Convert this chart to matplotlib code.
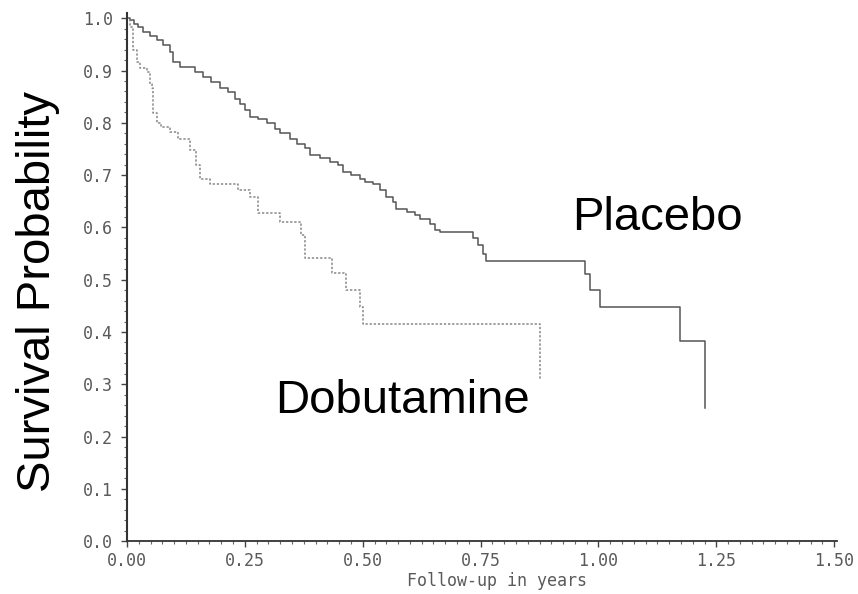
import matplotlib
matplotlib.use("Agg")
import matplotlib.pyplot as plt
from matplotlib.ticker import MultipleLocator, FormatStrFormatter

MONO = "DejaVu Sans Mono"
SANS = "Liberation Sans"

# Kaplan-Meier steps: time (years), survival after the drop
placebo_time = [0.0, 0.006, 0.014, 0.024, 0.035, 0.049, 0.063, 0.077, 0.091, 0.098,
                0.112, 0.144, 0.162, 0.179, 0.197, 0.215, 0.229, 0.239, 0.250, 0.261,
                0.278, 0.296, 0.314, 0.324, 0.345, 0.360, 0.377, 0.388, 0.409, 0.430,
                0.448, 0.458, 0.476, 0.494, 0.504, 0.522, 0.536, 0.550, 0.564, 0.571,
                0.593, 0.610, 0.621, 0.642, 0.653, 0.663, 0.734, 0.745, 0.755, 0.762,
                0.972, 0.983, 1.004, 1.173, 1.225]
placebo_surv = [1.0, 0.996, 0.990, 0.983, 0.974, 0.967, 0.958, 0.948, 0.936, 0.917,
                0.907, 0.897, 0.888, 0.878, 0.866, 0.859, 0.846, 0.837, 0.824, 0.811,
                0.808, 0.799, 0.789, 0.780, 0.770, 0.760, 0.752, 0.738, 0.732, 0.725,
                0.720, 0.706, 0.700, 0.693, 0.687, 0.684, 0.671, 0.658, 0.649, 0.636,
                0.630, 0.623, 0.617, 0.607, 0.595, 0.591, 0.579, 0.566, 0.550, 0.535,
                0.511, 0.481, 0.448, 0.383, 0.254]

dobutamine_time = [0.0, 0.006, 0.013, 0.021, 0.028, 0.042, 0.049, 0.052, 0.056, 0.063,
                   0.073, 0.091, 0.109, 0.133, 0.146, 0.155, 0.176, 0.236, 0.261, 0.278,
                   0.324, 0.370, 0.377, 0.434, 0.465, 0.494, 0.501, 0.875]
dobutamine_surv = [1.0, 0.983, 0.939, 0.917, 0.904, 0.897, 0.875, 0.866, 0.818, 0.799,
                   0.792, 0.783, 0.770, 0.748, 0.719, 0.693, 0.684, 0.671, 0.658, 0.628,
                   0.611, 0.585, 0.541, 0.512, 0.480, 0.448, 0.416, 0.308]

x_ticks = [0.0, 0.25, 0.5, 0.75, 1.0, 1.25, 1.5]
y_ticks = [0.0, 0.1, 0.2, 0.3, 0.4, 0.5, 0.6, 0.7, 0.8, 0.9, 1.0]

fig = plt.figure(figsize=(8.58, 5.94), dpi=100)
ax = fig.add_axes([0.148, 0.089, 0.827, 0.889])

ax.plot(placebo_time, placebo_surv, drawstyle="steps-post", color="#555555", lw=1.1)
ax.plot(dobutamine_time, dobutamine_surv, drawstyle="steps-post", color="#888888",
        lw=1.1, linestyle=(0, (1.5, 1.2)))

ax.set_xlim(0, 1.505)
ax.set_ylim(0, 1.01)

ax.spines["top"].set_visible(False)
ax.spines["right"].set_visible(False)
ax.spines["left"].set_color("#333333")
ax.spines["left"].set_linewidth(1.5)
ax.spines["bottom"].set_color("#333333")
ax.spines["bottom"].set_linewidth(1.3)

ax.set_xticks(x_ticks)
ax.set_yticks(y_ticks)
ax.xaxis.set_major_formatter(FormatStrFormatter("%.2f"))
ax.yaxis.set_major_formatter(FormatStrFormatter("%.1f"))
ax.xaxis.set_minor_locator(MultipleLocator(0.025))
ax.yaxis.set_minor_locator(MultipleLocator(0.02))
ax.tick_params(which="major", direction="out", length=4, width=1, color="#444444",
               labelcolor="#5a5a5a", labelsize=12, pad=6)
ax.tick_params(axis="x", which="major", pad=4)
ax.tick_params(which="minor", direction="out", length=2, width=0.8, color="#666666")
for lab in ax.get_xticklabels() + ax.get_yticklabels():
    lab.set_fontname(MONO)

ax.set_xlabel("Follow-up in years", fontname=MONO, fontsize=12, color="#5a5a5a")
ax.xaxis.set_label_coords(0.521, -0.059)
ax.set_ylabel("Survival Probability", fontname=SANS, fontsize=34, color="black")
ax.yaxis.set_label_coords(-0.094, 0.473)

ax.text(0.945, 0.595, "Placebo", fontname=SANS, fontsize=34, ha="left", va="baseline")
ax.text(0.314, 0.245, "Dobutamine", fontname=SANS, fontsize=34, ha="left", va="baseline")

fig.savefig("out.png", dpi=100)
